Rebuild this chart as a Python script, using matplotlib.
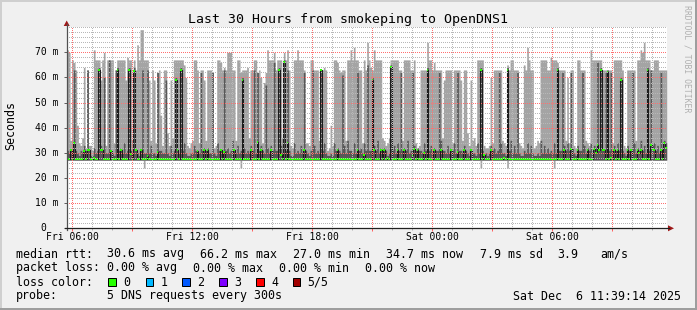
#importing the modules
import numpy as np
import matplotlib
matplotlib.use("Agg")
import matplotlib.pyplot as plt
from matplotlib.patches import Rectangle, Polygon

#the sorted pings of every 5 minute step (ms)
ping_max = [71, 70, 35, 67, 66, 63, 41, 34, 33, 36, 64, 32, 63, 33, 33, 31, 71, 67, 67, 67,
            59, 67, 70, 33, 67, 67, 67, 67, 34, 63, 67, 67, 67, 67, 67, 59, 68, 67, 67, 35,
            67, 63, 73, 67, 79, 79, 67, 67, 67, 59, 35, 63, 59, 34, 62, 63, 45, 33, 63, 63,
            38, 33, 59, 36, 67, 67, 67, 67, 67, 67, 65, 60, 33, 32, 34, 35, 67, 67, 63, 34,
            63, 63, 59, 35, 63, 63, 63, 62, 32, 33, 67, 67, 66, 63, 64, 63, 70, 70, 70, 63,
            63, 35, 67, 67, 62, 63, 63, 63, 64, 36, 63, 63, 67, 67, 62, 63, 60, 34, 58, 62,
            71, 67, 67, 67, 70, 63, 67, 67, 67, 36, 70, 67, 71, 63, 33, 32, 67, 67, 71, 67,
            67, 67, 63, 34, 34, 33, 67, 67, 63, 63, 63, 35, 63, 63, 64, 63, 31, 32, 41, 33,
            67, 67, 66, 63, 62, 63, 63, 35, 67, 67, 71, 67, 72, 67, 67, 63, 63, 34, 67, 63,
            74, 67, 64, 63, 71, 67, 67, 67, 67, 36, 35, 33, 34, 36, 67, 67, 67, 67, 67, 63,
            63, 35, 67, 67, 67, 67, 63, 63, 67, 34, 32, 33, 63, 63, 63, 63, 74, 67, 67, 63,
            66, 63, 63, 63, 63, 36, 59, 63, 63, 63, 63, 34, 63, 63, 63, 63, 59, 35, 63, 63,
            38, 33, 59, 35, 36, 33, 67, 67, 67, 67, 33, 32, 32, 33, 60, 34, 63, 63, 63, 63,
            63, 35, 34, 33, 65, 63, 67, 67, 63, 63, 63, 34, 33, 32, 65, 63, 72, 67, 63, 63,
            32, 33, 35, 34, 67, 67, 67, 67, 63, 63, 68, 67, 67, 67, 66, 63, 63, 63, 63, 35,
            60, 34, 63, 63, 33, 32, 67, 67, 63, 63, 63, 35, 34, 33, 71, 67, 67, 67, 67, 67,
            67, 63, 63, 63, 63, 63, 63, 34, 67, 67, 67, 67, 67, 63, 33, 32, 63, 63, 63, 63,
            63, 35, 67, 67, 71, 70, 74, 67, 67, 67, 63, 63, 67, 67, 67, 63, 63, 63, 63, 63]
ping_hi = [31, 30, 31, 30, 63, 31, 30, 29, 31, 30, 33, 31, 63, 31, 29, 29, 32, 30, 31, 64,
           33, 31, 60, 30, 30, 67, 31, 30, 29, 63, 64, 31, 32, 30, 34, 30, 31, 64, 31, 30,
           64, 31, 30, 29, 31, 63, 30, 30, 63, 30, 33, 30, 30, 29, 62, 31, 31, 30, 30, 59,
           30, 29, 33, 30, 31, 60, 31, 30, 64, 31, 34, 30, 29, 29, 30, 30, 33, 31, 31, 30,
           62, 31, 32, 31, 32, 30, 30, 62, 30, 29, 34, 31, 31, 30, 63, 31, 32, 30, 31, 35,
           31, 30, 33, 30, 31, 60, 32, 30, 31, 30, 33, 31, 63, 30, 62, 31, 33, 31, 30, 57,
           32, 30, 33, 31, 66, 31, 31, 64, 33, 30, 67, 31, 63, 31, 29, 29, 34, 30, 31, 30,
           33, 30, 62, 31, 30, 29, 31, 63, 33, 30, 31, 30, 63, 31, 34, 30, 29, 29, 30, 29,
           34, 31, 32, 31, 30, 61, 33, 30, 35, 31, 31, 30, 34, 30, 62, 31, 32, 30, 34, 31,
           65, 31, 31, 60, 33, 31, 35, 30, 32, 31, 32, 31, 29, 30, 65, 31, 33, 30, 34, 31,
           62, 31, 32, 31, 35, 30, 31, 62, 33, 31, 32, 31, 31, 30, 34, 31, 64, 31, 33, 30,
           32, 31, 31, 62, 35, 31, 31, 30, 33, 30, 32, 31, 34, 30, 62, 31, 31, 30, 33, 31,
           30, 29, 31, 30, 30, 29, 34, 30, 64, 31, 29, 30, 29, 30, 33, 31, 32, 30, 31, 62,
           34, 30, 30, 29, 64, 31, 35, 30, 33, 30, 62, 30, 29, 29, 31, 30, 34, 30, 33, 30,
           29, 29, 30, 29, 35, 30, 33, 30, 32, 30, 31, 30, 34, 30, 64, 31, 31, 62, 33, 31,
           34, 31, 62, 32, 30, 29, 33, 31, 31, 62, 33, 30, 32, 31, 34, 30, 33, 32, 66, 31,
           64, 32, 31, 62, 63, 31, 62, 31, 33, 31, 34, 31, 60, 31, 30, 29, 33, 31, 31, 62,
           34, 30, 32, 31, 35, 31, 33, 30, 64, 31, 63, 33, 34, 31, 33, 30, 62, 31, 35, 34]
ping_median = [27.4, 27.4, 31.0, 27.4, 34.0, 27.4, 27.5, 27.4, 27.4, 27.4, 30.8, 27.4, 31.2, 31.0, 27.4,
               27.4, 28.0, 27.4, 27.4, 63.0, 31.0, 31.0, 27.6, 27.4, 27.4, 27.4, 30.9, 27.4, 27.4, 27.4,
               63.0, 27.4, 31.2, 27.4, 27.5, 27.4, 27.4, 63.0, 29.5, 27.4, 62.7, 31.0, 27.4, 27.4, 31.0,
               27.4, 27.4, 27.4, 28.6, 27.4, 27.4, 27.4, 27.4, 27.4, 30.5, 27.4, 27.4, 27.4, 27.4, 27.4,
               27.4, 27.4, 27.4, 27.4, 27.4, 59.0, 31.0, 27.4, 63.0, 27.4, 27.4, 27.4, 27.4, 27.4, 27.4,
               27.4, 27.4, 27.4, 30.8, 27.4, 27.4, 27.4, 31.0, 27.4, 31.2, 27.4, 27.4, 27.4, 27.4, 27.4,
               27.4, 27.4, 31.0, 27.4, 30.5, 27.4, 27.4, 27.4, 27.5, 27.4, 31.0, 27.4, 27.4, 27.4, 27.4,
               59.0, 27.4, 27.4, 27.4, 27.4, 31.2, 27.4, 27.4, 27.4, 34.5, 27.4, 31.0, 27.4, 27.4, 27.4,
               27.4, 27.4, 31.0, 27.4, 27.4, 27.4, 27.4, 63.0, 29.0, 27.4, 66.0, 27.4, 34.0, 27.4, 27.4,
               27.4, 27.4, 27.4, 27.4, 27.4, 27.4, 27.4, 31.0, 27.4, 27.4, 27.4, 27.4, 27.4, 27.4, 27.4,
               27.4, 27.4, 63.0, 27.4, 27.4, 27.4, 27.4, 27.4, 27.4, 27.4, 27.4, 27.4, 31.0, 27.4, 27.4,
               27.4, 27.4, 27.4, 27.4, 27.4, 27.4, 27.4, 27.4, 27.4, 31.0, 27.4, 27.4, 27.4, 29.0, 27.4,
               27.4, 27.4, 27.4, 59.0, 31.0, 27.4, 27.5, 27.4, 31.0, 27.4, 31.0, 27.4, 28.0, 27.4, 64.0,
               27.4, 27.4, 27.4, 31.0, 27.4, 27.4, 27.4, 31.0, 27.4, 27.4, 27.4, 27.4, 29.0, 31.5, 27.4,
               31.0, 27.4, 27.4, 27.4, 30.0, 27.4, 63.0, 27.4, 27.4, 27.4, 31.0, 27.4, 27.4, 27.4, 31.0,
               27.4, 27.5, 27.4, 27.4, 27.4, 31.0, 27.4, 27.4, 27.4, 30.5, 27.4, 27.4, 27.4, 31.0, 27.4,
               27.4, 27.4, 31.0, 27.4, 27.4, 27.4, 27.4, 27.4, 63.0, 27.4, 29.0, 27.4, 27.4, 27.4, 31.0,
               27.4, 27.4, 27.4, 27.4, 27.4, 27.4, 27.4, 28.0, 27.4, 63.0, 27.4, 27.4, 27.4, 27.4, 27.4,
               27.4, 27.4, 27.4, 27.4, 27.4, 27.4, 27.4, 27.4, 27.4, 27.4, 27.4, 27.4, 27.4, 27.4, 27.4,
               27.4, 27.4, 27.4, 27.4, 27.4, 27.4, 27.4, 27.4, 27.4, 63.0, 27.4, 27.4, 27.4, 31.0, 27.4,
               27.4, 27.4, 31.5, 27.4, 27.4, 27.4, 31.0, 27.4, 27.4, 27.4, 27.4, 27.4, 31.0, 27.4, 27.4,
               27.4, 31.5, 30.0, 33.0, 31.0, 63.0, 31.0, 31.0, 27.4, 62.0, 27.4, 28.0, 27.4, 31.0, 27.4,
               31.0, 27.4, 59.0, 27.4, 27.4, 27.4, 31.0, 27.4, 31.0, 27.4, 27.4, 27.4, 31.0, 30.0, 31.0,
               27.4, 27.4, 27.4, 63.0, 27.4, 33.0, 31.0, 31.0, 27.4, 27.4, 27.4, 31.0, 27.4, 34.0, 32.0]
ping_lo = [27.2, 27.2, 27.2, 27.2, 27.2, 27.2, 27.2, 27.2, 27.2, 27.2, 27.2, 27.2, 27.2, 27.2, 27.2,
           27.2, 27.2, 27.2, 27.2, 27.2, 27.2, 27.2, 27.2, 27.2, 27.2, 27.2, 27.2, 27.2, 27.2, 27.2,
           27.2, 27.2, 27.2, 27.2, 27.2, 27.2, 27.2, 27.2, 27.2, 27.2, 27.2, 27.2, 27.2, 27.2, 27.2,
           27.2, 27.2, 27.2, 27.2, 27.2, 27.2, 27.2, 27.2, 27.2, 27.2, 27.2, 27.2, 27.2, 27.2, 27.2,
           27.2, 27.2, 27.2, 27.2, 27.2, 27.2, 27.2, 27.2, 27.2, 27.2, 27.2, 27.2, 27.2, 27.2, 27.2,
           27.2, 27.2, 27.2, 27.2, 27.2, 27.2, 27.2, 27.2, 27.2, 27.2, 27.2, 27.2, 27.2, 27.2, 27.2,
           27.2, 27.2, 27.2, 27.2, 27.2, 27.2, 27.2, 27.2, 27.2, 27.2, 27.2, 27.2, 27.2, 27.2, 27.2,
           27.2, 27.2, 27.2, 27.2, 27.2, 27.2, 27.2, 27.2, 27.2, 27.2, 27.2, 27.2, 27.2, 27.2, 27.2,
           27.2, 27.2, 27.2, 27.2, 27.2, 27.2, 27.2, 27.2, 27.2, 27.2, 27.2, 27.2, 27.2, 27.2, 27.2,
           27.2, 27.2, 27.2, 27.2, 27.2, 27.2, 27.2, 27.2, 27.2, 27.2, 27.2, 27.2, 27.2, 27.2, 27.2,
           27.2, 27.2, 27.2, 27.2, 27.2, 27.2, 27.2, 27.2, 27.2, 27.2, 27.2, 27.2, 27.2, 27.2, 27.2,
           27.2, 27.2, 27.2, 27.2, 27.2, 27.2, 27.2, 27.2, 27.2, 27.2, 27.2, 27.2, 27.2, 27.2, 27.2,
           27.2, 27.2, 27.2, 27.2, 27.2, 27.2, 27.2, 27.2, 27.2, 27.2, 27.2, 27.2, 27.2, 27.2, 27.2,
           27.2, 27.2, 27.2, 27.2, 27.2, 27.2, 27.2, 27.2, 27.2, 27.2, 27.2, 27.2, 27.2, 27.2, 27.2,
           27.2, 27.2, 27.2, 27.2, 27.2, 27.2, 27.2, 27.2, 27.2, 27.2, 27.2, 27.2, 27.2, 27.2, 27.2,
           27.2, 27.2, 27.2, 27.2, 27.2, 27.2, 27.2, 27.2, 27.2, 27.2, 27.2, 27.2, 27.2, 27.2, 27.2,
           27.2, 27.2, 27.2, 27.2, 27.2, 27.2, 27.2, 27.2, 27.2, 27.2, 27.2, 27.2, 27.2, 27.2, 27.2,
           27.2, 27.2, 27.2, 27.2, 27.2, 27.2, 27.2, 27.2, 27.2, 27.2, 27.2, 27.2, 27.2, 27.2, 27.2,
           27.2, 27.2, 27.2, 27.2, 27.2, 27.2, 27.2, 27.2, 27.2, 27.2, 27.2, 27.2, 27.2, 27.2, 27.2,
           27.2, 27.2, 27.2, 27.2, 27.2, 27.2, 27.2, 27.2, 27.2, 27.2, 27.2, 27.2, 27.2, 27.2, 27.2,
           27.2, 27.2, 27.2, 27.2, 27.2, 27.2, 27.2, 27.2, 27.2, 27.2, 27.2, 27.2, 27.2, 27.2, 27.2,
           27.2, 27.2, 27.2, 27.2, 27.2, 27.2, 27.2, 27.2, 27.2, 27.2, 27.2, 27.2, 27.2, 27.2, 27.2,
           27.2, 27.2, 27.2, 27.2, 27.2, 27.2, 27.2, 27.2, 27.2, 27.2, 27.2, 27.2, 27.2, 27.2, 27.2,
           27.2, 27.2, 27.2, 27.2, 27.2, 27.2, 27.2, 27.2, 27.2, 27.2, 27.2, 27.2, 27.2, 27.2, 27.2]
ping_min = [27.0, 27.0, 27.0, 27.0, 27.0, 27.0, 27.0, 27.0, 27.0, 27.0, 27.0, 27.0, 27.0, 27.0, 27.0,
            27.0, 27.0, 27.0, 27.0, 27.0, 27.0, 27.0, 27.0, 27.0, 27.0, 27.0, 27.0, 27.0, 27.0, 27.0,
            27.0, 27.0, 27.0, 27.0, 27.0, 27.0, 27.0, 27.0, 27.0, 27.0, 27.0, 27.0, 27.0, 27.0, 27.0,
            27.0, 24.0, 27.0, 27.0, 27.0, 27.0, 27.0, 27.0, 27.0, 27.0, 27.0, 27.0, 27.0, 27.0, 27.0,
            27.0, 27.0, 27.0, 27.0, 27.0, 27.0, 27.0, 27.0, 27.0, 27.0, 27.0, 27.0, 27.0, 27.0, 27.0,
            27.0, 27.0, 27.0, 27.0, 27.0, 27.0, 27.0, 27.0, 27.0, 27.0, 27.0, 27.0, 27.0, 27.0, 27.0,
            27.0, 27.0, 27.0, 27.0, 27.0, 27.0, 27.0, 27.0, 27.0, 27.0, 27.0, 27.0, 27.0, 27.0, 24.0,
            27.0, 27.0, 27.0, 27.0, 27.0, 27.0, 27.0, 27.0, 27.0, 27.0, 27.0, 27.0, 27.0, 27.0, 27.0,
            27.0, 27.0, 27.0, 27.0, 27.0, 27.0, 27.0, 27.0, 27.0, 27.0, 27.0, 27.0, 27.0, 27.0, 27.0,
            27.0, 27.0, 27.0, 27.0, 27.0, 27.0, 27.0, 27.0, 27.0, 27.0, 27.0, 27.0, 27.0, 27.0, 27.0,
            27.0, 27.0, 27.0, 27.0, 27.0, 27.0, 27.0, 27.0, 27.0, 27.0, 27.0, 27.0, 27.0, 27.0, 27.0,
            27.0, 27.0, 27.0, 27.0, 27.0, 27.0, 27.0, 27.0, 27.0, 27.0, 27.0, 27.0, 27.0, 27.0, 27.0,
            27.0, 27.0, 27.0, 27.0, 27.0, 27.0, 27.0, 27.0, 27.0, 27.0, 27.0, 27.0, 27.0, 27.0, 27.0,
            27.0, 27.0, 27.0, 27.0, 27.0, 27.0, 27.0, 27.0, 27.0, 27.0, 27.0, 27.0, 27.0, 27.0, 27.0,
            27.0, 27.0, 27.0, 27.0, 27.0, 27.0, 27.0, 27.0, 27.0, 27.0, 27.0, 27.0, 27.0, 27.0, 27.0,
            27.0, 27.0, 27.0, 27.0, 27.0, 27.0, 27.0, 27.0, 27.0, 27.0, 27.0, 27.0, 27.0, 27.0, 27.0,
            27.0, 27.0, 27.0, 27.0, 27.0, 27.0, 27.0, 27.0, 24.0, 27.0, 27.0, 27.0, 27.0, 27.0, 27.0,
            27.0, 27.0, 27.0, 27.0, 27.0, 27.0, 27.0, 27.0, 27.0, 24.0, 27.0, 27.0, 27.0, 27.0, 27.0,
            27.0, 27.0, 27.0, 27.0, 27.0, 27.0, 27.0, 27.0, 27.0, 27.0, 27.0, 27.0, 27.0, 27.0, 27.0,
            27.0, 27.0, 27.0, 27.0, 27.0, 27.0, 27.0, 24.0, 27.0, 27.0, 27.0, 27.0, 27.0, 27.0, 27.0,
            27.0, 27.0, 27.0, 27.0, 27.0, 27.0, 27.0, 27.0, 27.0, 27.0, 27.0, 27.0, 27.0, 27.0, 27.0,
            27.0, 27.0, 27.0, 27.0, 27.0, 27.0, 27.0, 27.0, 27.0, 27.0, 27.0, 27.0, 27.0, 27.0, 27.0,
            27.0, 27.0, 27.0, 27.0, 27.0, 27.0, 27.0, 27.0, 27.0, 27.0, 27.0, 27.0, 27.0, 27.0, 27.0,
            27.0, 27.0, 27.0, 27.0, 27.0, 27.0, 27.0, 27.0, 27.0, 27.0, 27.0, 27.0, 27.0, 27.0, 27.0]

#axis labels and legend texts
title = "Last 30 Hours from smokeping to OpenDNS1"
x_ticks = [6, 12, 18, 24, 30]
x_labels = ["Fri 06:00", "Fri 12:00", "Fri 18:00", "Sat 00:00", "Sat 06:00"]
y_ticks = [0, 10, 20, 30, 40, 50, 60, 70]
y_labels = ["0", "10 m", "20 m", "30 m", "40 m", "50 m", "60 m", "70 m"]
loss_names = ["0", "1", "2", "3", "4", "5/5"]
loss_colors = ["#26ff00", "#00b8ff", "#0059ff", "#7e00ff", "#ff0000", "#a10000"]
rtt_stats = ["30.6 ms avg", "66.2 ms max", "27.0 ms min", "34.7 ms now", "7.9 ms sd", "3.9", "am/s"]
loss_stats = ["0.00 % avg", "0.00 % max", "0.00 % min", "0.00 % now"]
probe_text = "5 DNS requests every 300s"
stamp = "Sat Dec  6 11:39:14 2025"

W, H = 697, 310
MONO = "DejaVu Sans Mono"

#helpers to place things in pixel coordinates (top-left origin)
def fx(px):
    return px / W

def fy(py):
    return 1 - py / H

fig = plt.figure(figsize=(W / 100, H / 100), dpi=100)
fig.patch.set_facecolor("#f0f0f0")

#plot area
left, right, top, bottom = 66.7, 666.7, 27.2, 228.3
ax = fig.add_axes([fx(left), fy(bottom), (right - left) / W, (bottom - top) / H])
ax.set_facecolor("white")
t0 = 5.72
step = 1 / 12
ax.set_xlim(t0, t0 + 30)
ax.set_ylim(0, 80)
for s in ax.spines.values():
    s.set_visible(False)

#small rrdtool style ticks on the axes, no labels (drawn below)
ax.set_xticks(np.arange(6, 36, 3))
ax.set_xticks(np.arange(6, 36, 1), minor=True)
ax.set_yticks(y_ticks)
ax.set_yticks(np.arange(2, 80, 2), minor=True)
ax.tick_params(which="both", labelbottom=False, labelleft=False, direction="out", width=0.72)
ax.tick_params(axis="x", which="major", length=2.2, color="#ff6060")
ax.tick_params(axis="x", which="minor", length=1.5, color="#b0b0b0")
ax.tick_params(axis="y", which="major", length=2.2, color="#606060")
ax.tick_params(axis="y", which="minor", length=0)

#times of every step, plus the closing edge for the step drawing
n = len(ping_max)
t = t0 + step * np.arange(n)
t_edge = np.append(t, t[-1] + step)

def ext(vals):
    v = np.asarray(vals[:n], dtype=float)
    return np.append(v, v[-1])

#smoke: outer pair light, inner pair dark
ax.fill_between(t_edge, ext(ping_min), ext(ping_max), step="post", color="#a4a4a4", lw=0, zorder=1)
ax.fill_between(t_edge, ext(ping_lo), ext(ping_hi), step="post", color="#585858", lw=0, zorder=2)
#median line and loss coloured median boxes
ax.step(t_edge, ext(ping_median), where="post", color="#1c1c1c", lw=0.8, zorder=3)
med = np.asarray(ping_median[:n])
ax.bar(t, 0.8, bottom=med - 0.4, width=step, align="edge", color=loss_colors[0], lw=0, zorder=4)

#dotted grid on top of the data like rrdtool does
grid_kw = dict(lw=0.72, linestyle=(0.5, (1, 1)), snap=True, zorder=6)
for v in np.arange(2, 81, 2):
    major = v % 10 == 0 and v < 80
    ax.axhline(v, color="#ff7070" if major else "#b8b8b8", **grid_kw)
for h in range(6, 36):
    major = h % 3 == 0
    ax.axvline(h, color="#ff7070" if major else "#b8b8b8", **grid_kw)

#tick labels
for tk, lb in zip(x_ticks, x_labels):
    ax.annotate(lb, xy=(tk, 0), xycoords=("data", "axes fraction"), xytext=(0, -9.2 * 0.72),
                textcoords="offset points", ha="center", va="center", family=MONO, fontsize=7.0)
for v, lb in zip(y_ticks, y_labels):
    off = -8.4 if lb.endswith("m") else -20.0
    ax.annotate(lb, xy=(0, v), xycoords=("axes fraction", "data"), xytext=(off * 0.72, 0),
                textcoords="offset points", ha="right", va="center", family=MONO, fontsize=7.0)

#axis lines and arrows
fig.add_artist(plt.Line2D([fx(left), fx(left)], [fy(bottom + 2), fy(24)], color="#505050", lw=0.9))
fig.add_artist(plt.Line2D([fx(left - 2), fx(669)], [fy(bottom), fy(bottom)], color="#202020", lw=0.9))
fig.add_artist(Polygon([[fx(left), fy(20.5)], [fx(left - 3), fy(26)], [fx(left + 3), fy(26)]],
                       closed=True, transform=fig.transFigure, color="#a01818", lw=0))
fig.add_artist(Polygon([[fx(674), fy(bottom)], [fx(668), fy(bottom - 3)], [fx(668), fy(bottom + 3)]],
                       closed=True, transform=fig.transFigure, color="#a01818", lw=0))

#titles
fig.text(fx(347.5), fy(19.5), title, ha="center", va="center", family=MONO, fontsize=9.5)
fig.text(fx(11), fy(126), "Seconds", rotation=90, ha="center", va="center", family=MONO, fontsize=8.4)
fig.text(fx(687.5), fy(59), "RRDTOOL / TOBI OETIKER", rotation=270, ha="center", va="center",
         family=MONO, fontsize=5.9, color="#b0b0b0")

#legend rows
row_y = [254, 268, 282, 296]
fig.text(fx(16), fy(row_y[0]), "median rtt:", va="center", family=MONO, fontsize=8.4)
for x, s in zip([107, 200, 292.7, 386, 480, 557.7, 600], rtt_stats):
    fig.text(fx(x), fy(row_y[0]), s, va="center", family=MONO, fontsize=8.4)
fig.text(fx(16), fy(row_y[1]), "packet loss:", va="center", family=MONO, fontsize=8.4)
for x, s in zip([107, 193, 279, 365], loss_stats):
    fig.text(fx(x), fy(row_y[1]), s, va="center", family=MONO, fontsize=8.4)
fig.text(fx(16), fy(row_y[2]), "loss color:", va="center", family=MONO, fontsize=8.4)
for x, name, col in zip([108.3, 145.7, 182.3, 219.3, 256, 292.7], loss_names, loss_colors):
    fig.add_artist(Rectangle((fx(x), fy(286)), 7.5 / W, 7.7 / H, transform=fig.transFigure,
                             facecolor=col, edgecolor="black", lw=0.72))
    fig.text(fx(x + 15), fy(row_y[2]), name, va="center", family=MONO, fontsize=8.4)
fig.text(fx(16), fy(row_y[3]), "probe:", va="center", family=MONO, fontsize=8.4)
fig.text(fx(107), fy(row_y[3]), probe_text, va="center", family=MONO, fontsize=8.4)
fig.text(fx(681), fy(row_y[3]), stamp, ha="right", va="center", family=MONO, fontsize=8.4)

#3d frame round the picture
fig.add_artist(Rectangle((0, fy(2)), 1, 2 / H, transform=fig.transFigure, color="#cfcfcf", lw=0))
fig.add_artist(Rectangle((0, 0), 2 / W, 1, transform=fig.transFigure, color="#cfcfcf", lw=0))
fig.add_artist(Rectangle((0, 0), 1, 2 / H, transform=fig.transFigure, color="#9e9e9e", lw=0))
fig.add_artist(Rectangle((fx(695), 0), 2 / W, 1, transform=fig.transFigure, color="#9e9e9e", lw=0))

fig.savefig("out.png", dpi=100, facecolor=fig.get_facecolor())
